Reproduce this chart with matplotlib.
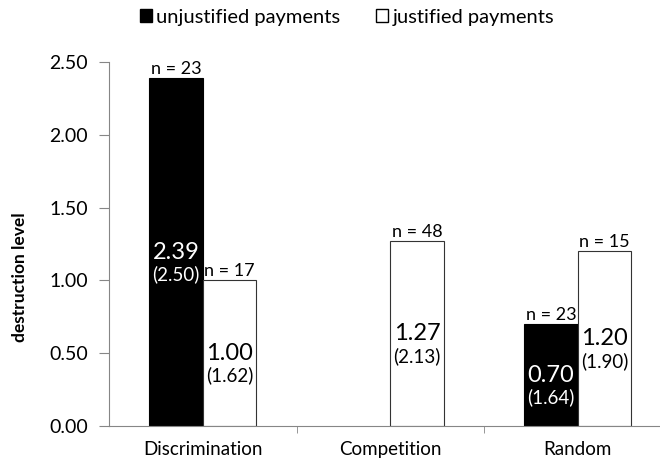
import numpy as np
import matplotlib.pyplot as plt
from matplotlib.patches import Patch

plt.rcParams['font.family'] = ['Lato', 'DejaVu Sans']

categories = ['Discrimination', 'Competition', 'Random']
unjust_mean = [2.39, np.nan, 0.70]
unjust_sd = ['(2.50)', '', '(1.64)']
unjust_n = ['n = 23', '', 'n = 23']
just_mean = [1.00, 1.27, 1.20]
just_sd = ['(1.62)', '(2.13)', '(1.90)']
just_n = ['n = 17', 'n = 48', 'n = 15']
yticks = [0.0, 0.5, 1.0, 1.5, 2.0, 2.5]

grey = '#868686'
w = 0.285
x = np.arange(len(categories))

fig = plt.figure(figsize=(6.6, 4.61), dpi=100)
ax = fig.add_axes([109 / 660, 1 - 426 / 461, 562.5 / 660, 364 / 461])

ax.bar(x - w / 2, unjust_mean, w, color='black', edgecolor='black', linewidth=0.8)
ax.bar(x + w / 2, just_mean, w, color='white', edgecolor='#333333', linewidth=0.8)


def label(xpos, val, sd, n, col):
    if np.isnan(val):
        return
    ax.text(xpos, val + 0.01, n, ha='center', va='bottom', fontsize=13)
    ax.annotate(f'{val:.2f}', (xpos, val / 2), ha='center', va='center',
                fontsize=17, color=col)
    ax.annotate(sd, (xpos, val / 2), xytext=(0, -16), textcoords='offset points',
                ha='center', va='center', fontsize=13.5, color=col)


for i in range(len(categories)):
    label(x[i] - w / 2, unjust_mean[i], unjust_sd[i], unjust_n[i], 'white')
    label(x[i] + w / 2, just_mean[i], just_sd[i], just_n[i], 'black')

ax.set_xlim(-0.5, 2.5)
ax.set_ylim(0, 2.5)
ax.set_yticks(yticks)
ax.set_yticklabels([f'{v:.2f}' for v in yticks], fontsize=14)
ax.set_xticks(x)
ax.set_xticklabels(categories, fontsize=13.5)
ax.set_xticks([0.5, 1.5], minor=True)
ax.tick_params(axis='x', which='major', length=0, pad=11)
ax.tick_params(axis='x', which='minor', length=5, color=grey, direction='out')
ax.tick_params(axis='y', length=7, color=grey, pad=8)
for s in ['top', 'right']:
    ax.spines[s].set_visible(False)
for s in ['left', 'bottom']:
    ax.spines[s].set_color(grey)

fig.text(20 / 660, 1 - 277 / 461, 'destruction level', rotation=90,
         ha='center', va='center', fontsize=12.5, fontweight='bold')

handles = [Patch(facecolor='black', edgecolor='black'),
           Patch(facecolor='white', edgecolor='black')]
fig.legend(handles, ['unjustified payments', 'justified payments'],
           loc='center', bbox_to_anchor=(347 / 660, 1 - 17 / 461), ncol=2,
           frameon=False, fontsize=14.5, handlelength=0.6, handleheight=0.6,
           handletextpad=0.2, columnspacing=1.8)

fig.savefig('out.png', dpi=100)
